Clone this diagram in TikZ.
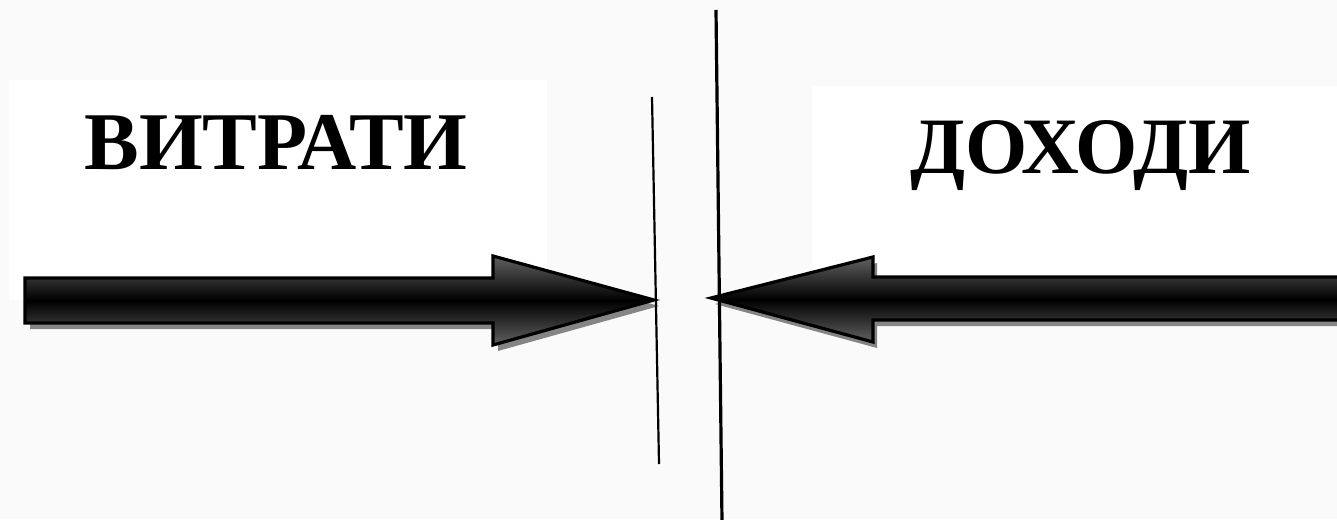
\documentclass[tikz,border=0pt]{standalone}
\usepackage{fontspec}
\setmainfont{Liberation Serif}
\usetikzlibrary{calc}
\begin{document}
\begin{tikzpicture}[x=0.5pt,y=-0.5pt,
  bg/.style={fill=black!1.8,draw=none},
  whitebox/.style={fill=white,draw=none},
  label/.style={inner sep=0pt,anchor=base,font=\fontsize{41}{48}\selectfont\bfseries},
  arrowshadow/.style={fill=black!48,draw=none},
  blockarrow/.style={draw=black,line width=1.6pt,line join=miter,top color=black!62,bottom color=black!62,middle color=black},
  divider/.style={draw=black,line cap=butt}]
\useasboundingbox (0,0) rectangle (1337,519);
\fill[bg] (0,0) rectangle (1337,519);
\fill[whitebox] (9,80) rectangle (547,300);
\fill[whitebox] (812,86) rectangle (1337,300);
% labels
\node[label] (costs) at (276,169) {ВИТРАТИ};
\node[label,font=\fontsize{40}{47}\selectfont\bfseries] (income) at (1081,173) {ДОХОДИ};
% tips
\coordinate (ltip) at (654,300);
\coordinate (rtip) at (711,298);
% left arrow shadow + arrow
\fill[arrowshadow] (30,284) -- (498,284) -- (498,262) -- ($(ltip)+(5,6)$) -- (498,351) -- (498,329) -- (30,329) -- cycle;
\path[blockarrow] (25,278) -- (493,278) -- (493,256) -- (ltip) -- (493,345) -- (493,323) -- (25,323) -- cycle;
% right arrow shadow + arrow
\fill[arrowshadow] (1345,283) -- (877,283) -- (877,263) -- ($(rtip)+(4,6)$) -- (877,348) -- (877,326) -- (1345,326) -- cycle;
\path[blockarrow] (1345,277) -- (873,277) -- (873,257) -- (rtip) -- (873,342) -- (873,320) -- (1345,320) -- cycle;
% dividers
\coordinate (d1t) at (652,97);
\coordinate (d1b) at (659,464);
\coordinate (d2t) at (716,10);
\coordinate (d2b) at (722,522);
\draw[divider,line width=1.1pt] (d1t) -- (d1b);
\draw[divider,line width=1.6pt] (d2t) -- (d2b);
\end{tikzpicture}
\end{document}
